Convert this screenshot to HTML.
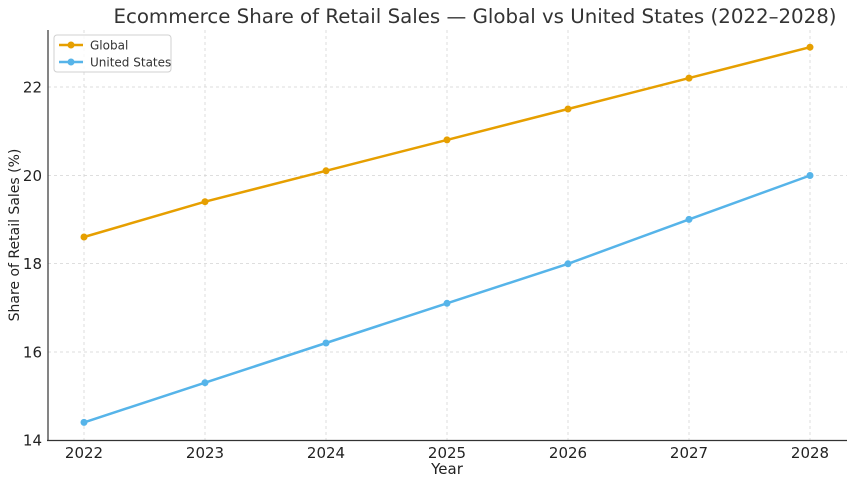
<!DOCTYPE html>
<html><head><meta charset="utf-8"><style>body{margin:0;background:#fff}svg{display:block}</style></head><body>
<svg width="855" height="485" xmlns="http://www.w3.org/2000/svg" font-family="'DejaVu Sans','Liberation Sans',sans-serif">
<rect width="855" height="485" fill="#fff"/>
<g stroke="#d4d4d4" stroke-width="0.8" stroke-dasharray="3,3">
<line x1="84" y1="30" x2="84" y2="440"/><line x1="205" y1="30" x2="205" y2="440"/><line x1="326" y1="30" x2="326" y2="440"/><line x1="447" y1="30" x2="447" y2="440"/><line x1="568" y1="30" x2="568" y2="440"/><line x1="689" y1="30" x2="689" y2="440"/><line x1="810" y1="30" x2="810" y2="440"/>
<line x1="48" y1="87" x2="847" y2="87"/><line x1="48" y1="175.5" x2="847" y2="175.5"/><line x1="48" y1="263.5" x2="847" y2="263.5"/><line x1="48" y1="352" x2="847" y2="352"/>
</g>
<line x1="48" y1="30" x2="48" y2="441" stroke="#333" stroke-width="1.2"/>
<line x1="47" y1="440.5" x2="847" y2="440.5" stroke="#333" stroke-width="1.2"/>
<g font-size="15" fill="#222" text-anchor="middle">
<text x="84" y="458">2022</text><text x="205" y="458">2023</text><text x="326" y="458">2024</text><text x="447" y="458">2025</text><text x="568" y="458">2026</text><text x="689" y="458">2027</text><text x="810" y="458">2028</text>
</g>
<g font-size="15" fill="#222" text-anchor="end">
<text x="42" y="445.5">14</text><text x="42" y="357.5">16</text><text x="42" y="269">18</text><text x="42" y="181">20</text><text x="42" y="92.5">22</text>
</g>
<text x="447" y="474" font-size="15" fill="#222" text-anchor="middle">Year</text>
<text transform="translate(19,235) rotate(-90)" font-size="14" fill="#222" text-anchor="middle">Share of Retail Sales (%)</text>
<text x="475" y="23" font-size="19.8" fill="#333" text-anchor="middle">Ecommerce Share of Retail Sales — Global vs United States (2022–2028)</text>
<polyline fill="none" stroke="#E69F00" stroke-width="2.5" points="84,237 205,201.7 326,170.8 447,139.9 568,109 689,78.1 810,47.2"/>
<g fill="#E69F00"><circle cx="84" cy="237" r="3.5"/><circle cx="205" cy="201.7" r="3.5"/><circle cx="326" cy="170.8" r="3.5"/><circle cx="447" cy="139.9" r="3.5"/><circle cx="568" cy="109" r="3.5"/><circle cx="689" cy="78.1" r="3.5"/><circle cx="810" cy="47.2" r="3.5"/></g>
<polyline fill="none" stroke="#56B4E9" stroke-width="2.5" points="84,422.4 205,382.7 326,343 447,303.3 568,263.8 689,219.4 810,175.5"/>
<g fill="#56B4E9"><circle cx="84" cy="422.4" r="3.5"/><circle cx="205" cy="382.7" r="3.5"/><circle cx="326" cy="343" r="3.5"/><circle cx="447" cy="303.3" r="3.5"/><circle cx="568" cy="263.8" r="3.5"/><circle cx="689" cy="219.4" r="3.5"/><circle cx="810" cy="175.5" r="3.5"/></g>
<rect x="54" y="35" width="117" height="37" rx="3" fill="#fff" fill-opacity="0.8" stroke="#d0d0d0"/>
<line x1="59" y1="45" x2="83" y2="45" stroke="#E69F00" stroke-width="2.5"/><circle cx="71" cy="45" r="3.5" fill="#E69F00"/>
<line x1="59" y1="62" x2="83" y2="62" stroke="#56B4E9" stroke-width="2.5"/><circle cx="71" cy="62" r="3.5" fill="#56B4E9"/>
<text x="90" y="49.5" font-size="12" fill="#333">Global</text>
<text x="90" y="66.5" font-size="12" fill="#333">United States</text>
</svg>
</body></html>
